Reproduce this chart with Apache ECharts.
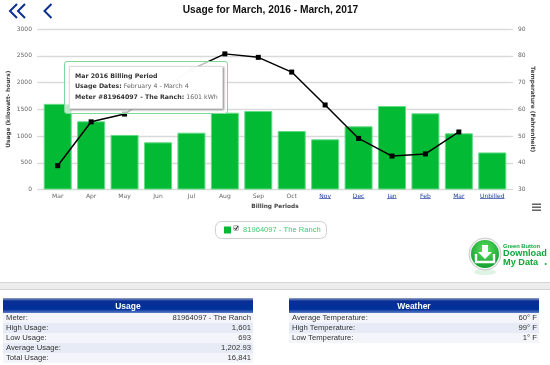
<!DOCTYPE html>
<html><head><meta charset="utf-8">
<script src="https://cdn.jsdelivr.net/npm/echarts@6/dist/echarts.min.js"></script>
<style>
html,body{margin:0;padding:0;background:#fff;overflow:hidden}
#chart{position:absolute;left:0;top:0;width:550px;height:365px}
.band{position:absolute;left:0;width:550px;top:282px;height:6px;background:#ededed;border-top:1px solid #d4d4d4;border-bottom:1px solid #d4d4d4;box-sizing:content-box}
table.t{position:absolute;top:298px;width:250px;border-collapse:collapse;font:7.7px/10px "Liberation Sans",Arial,sans-serif;color:#333}
table.t th{height:15px;padding:0;color:#fff;font:bold 8.5px "Liberation Sans",Arial,sans-serif;background:linear-gradient(#9aa6c8 0,#0a2f96 20%,#00309a 75%,#5f7fc6 100%);text-align:center}
table.t td{height:10px;padding:0 2px 0 3px;white-space:nowrap}
table.t td:last-child{text-align:right}
table.t tr:nth-child(even) td{background:#f3f5fb}
table.t tr:nth-child(odd) td{background:#e6ebf5}
.tipouter{box-sizing:border-box;width:164px;height:53px;padding:4px;border:1.5px solid #7fd79a;border-radius:3px;background:rgba(255,255,255,.72)}
.tipinner{box-sizing:border-box;height:43px;padding:4px 5px;background:rgba(255,255,255,.92);border:1px solid #ddd;box-shadow:1px 1px 2px #888;font:6.25px/10.4px "DejaVu Sans",sans-serif;color:#666;white-space:nowrap}
.tipinner b{color:#333}
</style></head><body>
<div id="chart"></div>
<div class="band"></div>
<table class="t" id="usageTable" style="left:3px"></table>
<table class="t" id="weatherTable" style="left:289px"></table>
<script>
const categories=['Mar','Apr','May','Jun','Jul','Aug','Sep','Oct','Nov','Dec','Jan','Feb','Mar','Unbilled'];
const linkedCategories=[8,9,10,11,12,13];
const usage=[1601,1275,1019,882,1062,1435,1467,1093,938,1181,1560,1424,1050,693];
const temperature=[38.9,55.3,58.2,66.5,74.9,80.7,79.4,73.9,61.6,49.1,42.5,43.3,51.5,null];
const seriesName='81964097 - The Ranch';
const usageRows=[['Meter:','81964097 - The Ranch'],['High Usage:','1,601'],['Low Usage:','693'],['Average Usage:','1,202.93'],['Total Usage:','16,841']];
const weatherRows=[['Average Temperature:','60° F'],['High Temperature:','99° F'],['Low Temperature:','1° F']];
const GRAY='#d9d9d9', AXF='"DejaVu Sans",sans-serif', LINK='#1f3f9f';

function fill(id,title,rows){
  document.getElementById(id).innerHTML='<tr><th colspan="2">'+title+'</th></tr>'+
    rows.map(r=>'<tr><td>'+r[0]+'</td><td>'+r[1]+'</td></tr>').join('');
}
fill('usageTable','Usage',usageRows);fill('weatherTable','Weather',weatherRows);

const chart=echarts.init(document.getElementById('chart'),null,{renderer:'canvas'});
const axisLabelFont=6;
const labelStyle={fontFamily:AXF,fontSize:axisLabelFont,color:'#666',formatter:v=>String(v)};
const g=[];
const chev=(pts)=>({type:'polyline',silent:true,shape:{points:pts},style:{stroke:'#0c2f92',lineWidth:2,fill:null}});
g.push(chev([[17,4],[10,11],[17,18]]),chev([[25,4],[18,11],[25,18]]),chev([[51.5,4],[44.5,11],[51.5,18]]));
[204,207,210].forEach(y=>g.push({type:'rect',silent:true,shape:{x:532,y:y-0.5,width:9,height:1.4},style:{fill:'#555'}}));
// legend box + checkbox
g.push({type:'rect',silent:true,z:-1,shape:{x:215.5,y:221.5,width:111,height:17,r:6},style:{fill:'#fff',stroke:'#cfcfcf',lineWidth:1}});
g.push({type:'rect',silent:true,shape:{x:233.5,y:225.5,width:5,height:5,r:1},style:{fill:'#e8e8e8',stroke:'#999',lineWidth:.7}});
g.push({type:'polyline',silent:true,shape:{points:[[234.5,228],[235.8,229.6],[238,226]]},style:{stroke:'#222',lineWidth:1,fill:null}});
// download badge
g.push({type:'ellipse',silent:true,shape:{cx:485,cy:272,rx:11,ry:3},style:{fill:'#dff3e4'}});
g.push({type:'circle',silent:true,shape:{cx:485,cy:254,r:16},style:{fill:'#f4f4f4',stroke:'#c9c9c9',lineWidth:1}});
g.push({type:'circle',silent:true,shape:{cx:485,cy:254,r:14},style:{fill:new echarts.graphic.RadialGradient(.5,.35,.7,[{offset:0,color:'#5fe05f'},{offset:1,color:'#0c9a2c'}])}});
g.push({type:'polygon',silent:true,shape:{points:[[482,245],[488,245],[488,252],[492,252],[485,259],[478,252],[482,252]]},style:{fill:'#fff'}});
g.push({type:'polyline',silent:true,shape:{points:[[476,254],[476,262],[494,262],[494,254]]},style:{stroke:'#fff',lineWidth:2.4,fill:null}});
const badge=(t,y,s)=>({type:'text',silent:true,style:{x:503,y:y,text:t,font:'bold '+s+'px "Liberation Sans",Arial,sans-serif',fill:'#0fa83c',verticalAlign:'middle'}});
g.push(badge('Green Button',246,5.8),badge('Download',253.5,9.2),badge('My Data',262,9.2));
g.push({type:'circle',silent:true,shape:{cx:545.7,cy:264,r:1},style:{fill:'#0fa83c'}});

chart.setOption({
  animation:false,
  title:{text:'Usage for March, 2016 - March, 2017',left:265.5,top:0,textAlign:'center',
    textStyle:{fontFamily:'"Liberation Sans",Arial,sans-serif',fontSize:10.2,fontWeight:'bold',color:'#111'}},
  grid:{left:41,right:41,top:29,height:160.5,containLabel:false,outerBoundsMode:'none'},
  tooltip:{trigger:'item',alwaysShowContent:true,showContent:true,transitionDuration:0,confine:false,
    position:[64,61],padding:0,borderWidth:0,backgroundColor:'transparent',shadowBlur:0,
    extraCssText:'box-shadow:none;',
    formatter:()=>'<div class="tipouter"><div class="tipinner">'+
      '<b>'+categories[0]+' 2016 Billing Period</b><br><b>Usage Dates:</b> February 4 - March 4<br><b>Meter #81964097 - The Ranch:</b> '+usage[0]+' kWh</div></div>'},
  legend:{data:[{name:seriesName,icon:'rect'}],left:224,top:226,padding:0,itemWidth:7,itemHeight:7,selectedMode:false,
    itemStyle:{borderWidth:0},
    textStyle:{fontFamily:'"Liberation Sans",Arial,sans-serif',fontSize:7.6,color:'#3ecb6e',padding:[0,0,0,7]}},
  xAxis:{type:'category',data:categories,
    axisLine:{show:false},axisTick:{show:false},
    axisLabel:{fontFamily:AXF,fontSize:axisLabelFont,margin:4,interval:0,
      color:(v,i)=>linkedCategories.includes(i)?LINK:'#666'},
    name:'Billing Periods',nameLocation:'middle',nameGap:14,
    nameTextStyle:{fontFamily:AXF,fontSize:5.8,fontWeight:'bold',color:'#444'}},
  yAxis:[
    {type:'value',min:0,max:3000,interval:500,nameMoveOverlap:false,
     axisLine:{show:false},axisTick:{show:true,length:4,lineStyle:{color:GRAY,width:1.3}},
     splitLine:{lineStyle:{color:GRAY,width:1.3}},
     axisLabel:Object.assign({margin:9},labelStyle),
     name:'Usage (kilowatt- hours)',nameLocation:'middle',nameRotate:90,nameGap:30,
     nameTextStyle:{fontFamily:AXF,fontSize:5.8,fontWeight:'bold',color:'#444'}},
    {type:'value',min:30,max:90,interval:10,position:'right',nameMoveOverlap:false,
     axisLine:{show:false},axisTick:{show:true,length:4,lineStyle:{color:GRAY,width:1.3}},
     splitLine:{show:false},
     axisLabel:Object.assign({margin:9},labelStyle),
     name:'Temperature (Fahrenheit)',nameLocation:'middle',nameRotate:-90,nameGap:21,
     nameTextStyle:{fontFamily:AXF,fontSize:5.9,fontWeight:'bold',color:'#444'}}
  ],
  series:[
    {name:seriesName,type:'bar',data:usage,barWidth:28,z:2,
     itemStyle:{color:'#02ba33',borderColor:'#62dc86',borderWidth:1}},
    {name:'Temperature',type:'line',yAxisIndex:1,data:temperature,z:3,symbol:'rect',symbolSize:5,showSymbol:true,
     itemStyle:{color:'#000'},lineStyle:{color:'#000',width:1.5},connectNulls:false,silent:true,tooltip:{show:false}},
    {name:'links',type:'custom',silent:true,z:4,clip:false,
     data:linkedCategories.map(i=>[i]),encode:{x:0},tooltip:{show:false},
     renderItem:(p,api)=>{
       const i=api.value(0), pt=api.coord([i,0]);
       const w=echarts.format.getTextRect(categories[i],axisLabelFont+'px '+AXF).width;
       return {type:'line',shape:{x1:pt[0]-w/2,y1:198.5,x2:pt[0]+w/2,y2:198.5},style:{stroke:LINK,lineWidth:.7}};
     }}
  ],
  graphic:g
});
chart.dispatchAction({type:'showTip',seriesIndex:0,dataIndex:0});
</script>
</body></html>
